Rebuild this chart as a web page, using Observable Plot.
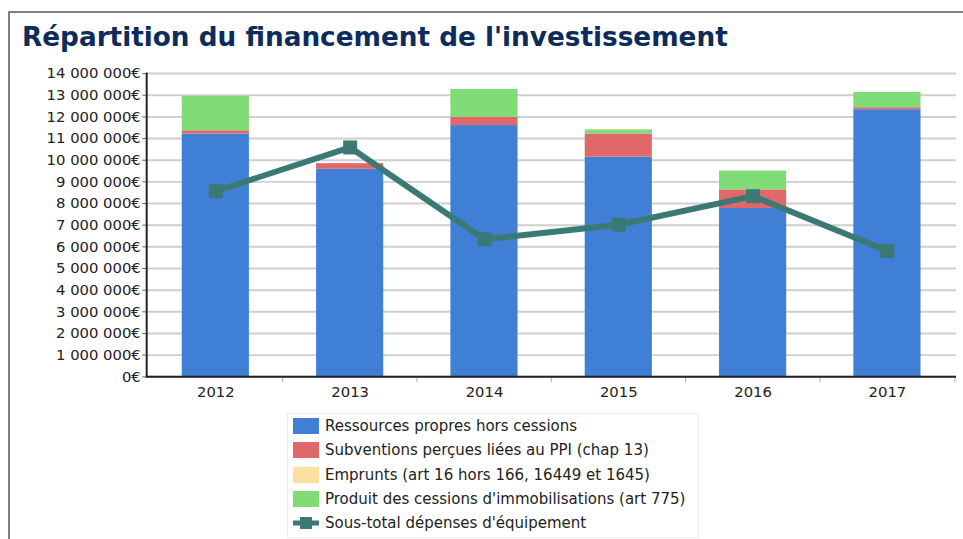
<!DOCTYPE html>
<html>
<head>
<meta charset="utf-8">
<script src="https://cdn.jsdelivr.net/npm/d3@7"></script>
<script src="https://cdn.jsdelivr.net/npm/@observablehq/plot@0.6"></script>
<style>
  html, body { margin: 0; padding: 0; background: #fff; overflow: hidden; width: 963px; height: 539px; }
  #frame { position: absolute; left: 8px; top: 11px; width: 970px; height: 600px; border-left: 2px solid #808080; border-top: 2px solid #808080; }
  #title { position: absolute; left: 22px; top: 22px; font-family: "DejaVu Sans", sans-serif; font-weight: bold; font-size: 26.3px; color: #0d2b5c; white-space: nowrap; }
  #chart { position: absolute; left: 0; top: 0; }
  #legend { position: absolute; left: 287px; top: 413px; width: 410px; height: 123px; border: 1px solid #eee; font-family: "DejaVu Sans", sans-serif; font-size: 15px; color: #222; }
  .item { position: absolute; left: 5px; height: 18px; display: flex; align-items: center; white-space: nowrap; }
  .sw { width: 26px; height: 16px; margin-right: 6px; }
</style>
</head>
<body>
<div id="frame"></div>
<div id="title">Répartition du financement de l'investissement</div>
<div id="chart"></div>
<div id="legend"></div>
<script>
const years = ["2012", "2013", "2014", "2015", "2016", "2017"];
const ressources = [11210000, 9580000, 11600000, 10140000, 7770000, 12330000];
const subventions = [150000, 260000, 380000, 1070000, 860000, 90000];
const emprunts = [0, 0, 0, 0, 0, 0];
const cessions = [1580000, 0, 1290000, 190000, 870000, 710000];
const sousTotal = [8570000, 10590000, 6350000, 7020000, 8340000, 5810000];

const seriesNames = [
  "Ressources propres hors cessions",
  "Subventions perçues liées au PPI (chap 13)",
  "Emprunts (art 16 hors 166, 16449 et 1645)",
  "Produit des cessions d'immobilisations (art 775)"
];
const lineName = "Sous-total dépenses d'équipement";
const colors = ["#3f7fd6", "#e06868", "#fddfa0", "#80dc76"];
const lineColor = "#3b7a74";
const yTicks = d3.range(0, 14000001, 1000000);

const seriesValues = [ressources, subventions, emprunts, cessions];
const stacked = [];
seriesNames.forEach((s, i) => years.forEach((y, j) => stacked.push({year: y, serie: s, value: seriesValues[i][j]})));
const lineData = years.map((y, j) => ({year: y, value: sousTotal[j]}));

const fmt = v => d3.format(",")(v).replace(/,/g, " ") + "€";

const plot = Plot.plot({
  width: 975,
  height: 405,
  marginLeft: 148,
  marginRight: 7,
  marginTop: 74,
  marginBottom: 24,
  style: {fontFamily: "DejaVu Sans, sans-serif", fontSize: "15px", color: "#222", background: "transparent", overflow: "visible"},
  x: {domain: years, paddingInner: 0.5, paddingOuter: 0.25, label: null},
  y: {domain: [0, 14000000], label: null},
  color: {domain: seriesNames, range: colors},
  marks: [
    Plot.gridY(yTicks, {stroke: "#cfcfcf", strokeOpacity: 1, strokeWidth: 2}),
    Plot.barY(stacked, {x: "year", y: "value", fill: "serie", order: seriesNames}),
    Plot.axisY({ticks: yTicks, tickFormat: fmt, tickSize: 4, tickPadding: 2, stroke: "#666", label: null}),
    Plot.axisX({tickSize: 0, tickPadding: 10, label: null}),
    Plot.ruleX(years.slice(1), {dx: -68.33, y1: 0, y2: -280000, stroke: "#aaa", strokeWidth: 1}),
    Plot.ruleX(["2017"], {dx: 68.33, y1: 0, y2: -280000, stroke: "#aaa", strokeWidth: 1}),
    Plot.ruleY([0], {stroke: "#222", strokeWidth: 2}),
    Plot.frame({anchor: "left", stroke: "#222", strokeWidth: 2}),
    Plot.line(lineData, {x: "year", y: "value", stroke: lineColor, strokeWidth: 6}),
    Plot.dot(lineData, {x: "year", y: "value", symbol: "square", r: 8, fill: lineColor, stroke: "none"})
  ]
});
document.getElementById("chart").appendChild(plot);

// Legend
const legend = document.getElementById("legend");
const rowsTop = [3, 27, 52, 76, 100];
seriesNames.forEach((s, i) => {
  const it = document.createElement("div");
  it.className = "item";
  it.style.top = rowsTop[i] + "px";
  it.innerHTML = `<div class="sw" style="background:${colors[i]}"></div><span>${s}</span>`;
  legend.appendChild(it);
});
const it = document.createElement("div");
it.className = "item";
it.style.top = rowsTop[4] + "px";
it.innerHTML = `<svg width="26" height="16" style="margin-right:6px"><line x1="0" x2="26" y1="8" y2="8" stroke="${lineColor}" stroke-width="5"/><rect x="7" y="2" width="12" height="12" fill="${lineColor}"/></svg><span>${lineName}</span>`;
legend.appendChild(it);
</script>
</body>
</html>
